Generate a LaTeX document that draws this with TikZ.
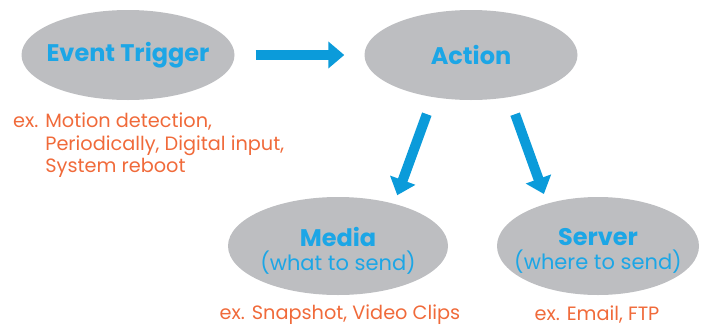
\documentclass[tikz,border=0pt]{standalone}
\usepackage{fontspec}
\setmainfont{Poppins}
\usepackage{xcolor}
\usetikzlibrary{shapes.geometric,arrows.meta,positioning}

\definecolor{ovalgray}{HTML}{BDBEC1}
\definecolor{titleblue}{HTML}{1CA6E6}
\definecolor{flowblue}{HTML}{0B9BDA}
\definecolor{exorange}{HTML}{F06A3A}

\newcommand{\ovaltitle}[1]{{\fontsize{24}{26}\selectfont\bfseries #1}}
\newcommand{\ovalsub}[1]{{\fontsize{21}{24}\selectfont #1}}

\tikzset{
  oval/.style={ellipse, fill=ovalgray, inner sep=0pt},
  ovaltext/.style={text=titleblue, align=center, inner sep=0pt},
  flow/.style={draw=flowblue, line width=10pt, -{Triangle[length=16pt,width=26pt]}},
  extext/.style={text=exorange, font=\fontsize{19.3}{22.5}\selectfont, inner sep=0pt}
}

\begin{document}
\begin{tikzpicture}[x=1pt,y=-1pt]
    \useasboundingbox (0,0) rectangle (701,327);
    % ovals
    \node[oval, minimum width=213pt, minimum height=90pt,
          label={[ovaltext]center:\ovaltitle{Event Trigger}}] (trig) at (128,55) {};
    \node[oval, minimum width=213pt, minimum height=90pt,
          label={[ovaltext]center:\ovaltitle{Action}}] (act) at (471,55) {};
    \node[oval, minimum width=220pt, minimum height=98pt,
          label={[ovaltext, yshift=-5pt]center:\ovaltitle{Media}\\[3pt]\ovalsub{(what to send)}}] (media) at (338,246) {};
    \node[oval, minimum width=202pt, minimum height=98pt,
          label={[ovaltext, yshift=-5pt]center:\ovaltitle{Server}\\[3pt]\ovalsub{(where to send)}}] (server) at (598,246) {};
    % examples
    \node[extext, anchor=north west, align=left] (trigex) at (13,113)
      {ex. Motion detection,\\\hphantom{ex. }Periodically, Digital input,\\\hphantom{ex. }System reboot};
    \node[extext] (mediaex) at (340,315) {ex. Snapshot, Video Clips};
    \node[extext] (serverex) at (597,315) {ex. Email, FTP};
    % arrows
    \draw[flow, shorten <=21pt, shorten >=20pt] (trig.east) -- (act.west);
    \draw[flow, shorten <=18pt, shorten >=9pt] (act.228) -- (media.37);
    \draw[flow, shorten <=18pt, shorten >=10pt] (act.312) -- (server.140);
\end{tikzpicture}
\end{document}
